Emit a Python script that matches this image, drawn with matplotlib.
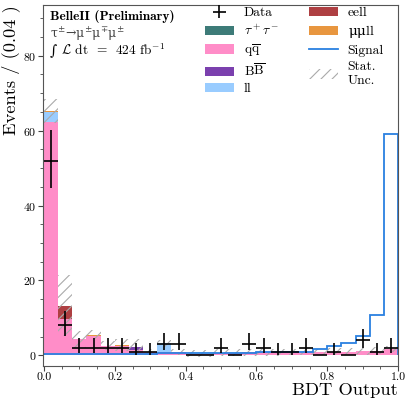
import numpy as np
import matplotlib
matplotlib.use("Agg")
import matplotlib.pyplot as plt
from matplotlib.patches import Patch
from matplotlib.lines import Line2D
from matplotlib.ticker import MultipleLocator, FormatStrFormatter

plt.rcParams["font.family"] = ["cmr10", "DejaVu Serif"]
plt.rcParams["mathtext.fontset"] = "cm"
plt.rcParams["axes.formatter.use_mathtext"] = True
plt.rcParams["hatch.linewidth"] = 0.8

# BDT output, 25 bins of width 0.04
edges = np.linspace(0.0, 1.0, 26)

data = [52, 8, 2, 2, 2, 2, 1, 1, 3, 3, 0, 0, 2, 0, 3, 2, 1, 1, 2, 0, 1, 0, 4, 1, 2]

tautau = [0.0] * 25
qqbar = [62.3, 9.8, 4.3, 5.2, 2.6, 2.5, 1.5, 0.9, 1.0, 1.0, 0.5, 0.5, 0.7, 0.7,
         0.8, 0.8, 0.8, 0.9, 0.9, 0.9, 1.0, 1.0, 1.1, 1.3, 1.7]
bbbar = [0, 0, 0, 0, 0, 0, 0.8, 0, 0, 0, 0, 0, 0, 0, 0, 0, 0, 0, 0, 0, 0, 0, 0, 0, 0]
ll = [2.7, 0, 0, 0, 0, 0, 0, 0, 2.2, 0, 0, 0, 0, 0, 0, 0, 0, 0, 0, 0, 0, 0, 0, 0, 0]
eell = [0, 3.5, 0, 0, 0, 0, 0, 0, 0, 0, 0, 0, 0, 0, 0, 0, 0, 0, 0, 0, 0, 0, 0, 0, 0]
mumull = [0.3, 0, 0, 0.25, 0, 0.3, 0, 0, 0, 0, 0, 0, 0, 0, 0, 0, 0, 0, 0, 0, 0, 0, 0, 0, 0]

stat_unc = [3.2, 8.2, 2.2, 1.2, 1.2, 1.5, 2.0, 0.8, 1.0, 0.8, 0.9, 0.9, 0.9, 0.9,
            0.9, 0.9, 0.9, 0.9, 0.9, 0.9, 0.9, 0.9, 0.9, 0.9, 0.9]

signal = [0.3, 0.35, 0.35, 0.4, 0.4, 0.45, 0.5, 0.5, 0.55, 0.6, 0.6, 0.65, 0.7,
          0.7, 0.75, 0.8, 0.85, 0.9, 1.0, 1.6, 2.5, 3.2, 5.3, 10.9, 59.0]

components = [
    (r"$\tau^+\tau^-$", tautau, "#3d7b78"),
    (r"$\mathrm{q\overline{q}}$", qqbar, "#ff8dc8"),
    (r"$\mathrm{B\overline{B}}$", bbbar, "#7b40ae"),
    ("ll", ll, "#99ccff"),
    ("eell", eell, "#ae3f42"),
    (r"$\mathrm{\mu\mu}$ll", mumull, "#e8963f"),
]


def poisson_interval(n):
    """Approximate Garwood 68% interval (Wilson-Hilferty)."""
    n = np.asarray(n, dtype=float)
    m = np.maximum(n, 1)
    lo = np.where(n > 0, n * (1 - 1 / (9 * m) - 1 / (3 * np.sqrt(m))) ** 3, 0.0)
    up = (n + 1) * (1 - 1 / (9 * (n + 1)) + 1 / (3 * np.sqrt(n + 1))) ** 3
    up = np.where(n > 0, up, n)
    return n - lo, up - n


fig = plt.figure(figsize=(4.05, 3.99), dpi=100)
ax = fig.add_axes([0.106, 0.083, 0.877, 0.904])

left = edges[:-1]
width = np.diff(edges)
centers = left + width / 2

bottom = np.zeros(25)
handles = {}
for label, vals, col in components:
    vals = np.asarray(vals, dtype=float)
    ax.bar(left, vals, width=width, bottom=bottom, align="edge", color=col,
           linewidth=0)
    handles[label] = Patch(facecolor=col, edgecolor="none")
    bottom = bottom + vals
total = bottom

unc = np.asarray(stat_unc)
ax.bar(left, 2 * unc, width=width, bottom=total - unc, align="edge",
       fill=False, hatch="///", edgecolor="#aaaaaa", linewidth=0)

ax.stairs(signal, edges, color="#2a80e0", linewidth=1.3)

err_lo, err_up = poisson_interval(data)
ax.errorbar(centers, data, xerr=width / 2, yerr=[err_lo, err_up], fmt="none",
            ecolor="black", elinewidth=1.2, capsize=0)

ax.set_xlim(-0.003, 1.0)
ax.set_ylim(-2.8, 93.5)
ax.xaxis.set_major_locator(MultipleLocator(0.2))
ax.xaxis.set_minor_locator(MultipleLocator(0.05))
ax.xaxis.set_major_formatter(FormatStrFormatter("%.1f"))
ax.yaxis.set_major_locator(MultipleLocator(20))
ax.yaxis.set_minor_locator(MultipleLocator(5))
ax.tick_params(which="major", direction="out", length=3.5, width=0.8,
               labelsize=8.5, pad=1, color="#444444")
ax.tick_params(which="minor", direction="out", length=2.5, width=0.6,
               color="#444444")
for s in ax.spines.values():
    s.set_color("#555555")
    s.set_linewidth(0.8)

ax.set_ylabel("Events / (0.04 )", loc="top", fontsize=13.3, labelpad=2)
ax.set_xlabel("BDT Output", loc="right", fontsize=13.3, labelpad=1)

ax.text(0.02, 0.988, "BelleII (Preliminary)", transform=ax.transAxes,
        fontname="cmb10", fontsize=9.6, va="top", ha="left")
ax.text(0.02, 0.945,
        r"$\mathrm{\tau^{\pm}\!\rightarrow\!\mu^{\pm}\mu^{\mp}\mu^{\pm}}$",
        transform=ax.transAxes, fontsize=9, va="top", ha="left",
        color="#444444", math_fontfamily="dejavuserif")
ax.text(0.02, 0.893, "\u222b", transform=ax.transAxes, fontsize=10,
        va="top", ha="left", family=["DejaVu Serif"])
ax.text(0.05, 0.895, r"$\mathcal{L}$" + " dt  =  424 fb" + r"$^{-1}$",
        transform=ax.transAxes, fontsize=9.6, va="top", ha="left")

data_handle = ax.errorbar([], [], xerr=[], yerr=[], fmt="none", ecolor="black",
                          elinewidth=1.2)
sig_handle = Line2D([], [], color="#2a80e0", linewidth=1.3)
unc_handle = Patch(facecolor="none", edgecolor="#aaaaaa", hatch="///", linewidth=0)

leg_handles = [data_handle] + [handles[c[0]] for c in components[:4]] + \
              [handles[c[0]] for c in components[4:]] + [sig_handle, unc_handle]
leg_labels = ["Data"] + [c[0] for c in components[:4]] + \
             [c[0] for c in components[4:]] + ["Signal", "Stat.\nUnc."]
leg = ax.legend(leg_handles, leg_labels, ncol=2, loc="upper right",
                bbox_to_anchor=(0.975, 1.01), frameon=False, fontsize=9.7,
                labelspacing=0.3, handlelength=2.2, handletextpad=0.7,
                columnspacing=2.2, borderaxespad=0.0)
for t in leg.get_texts():
    if "mu" in t.get_text():
        t.set_math_fontfamily("dejavuserif")

fig.savefig("out.png", dpi=100)
